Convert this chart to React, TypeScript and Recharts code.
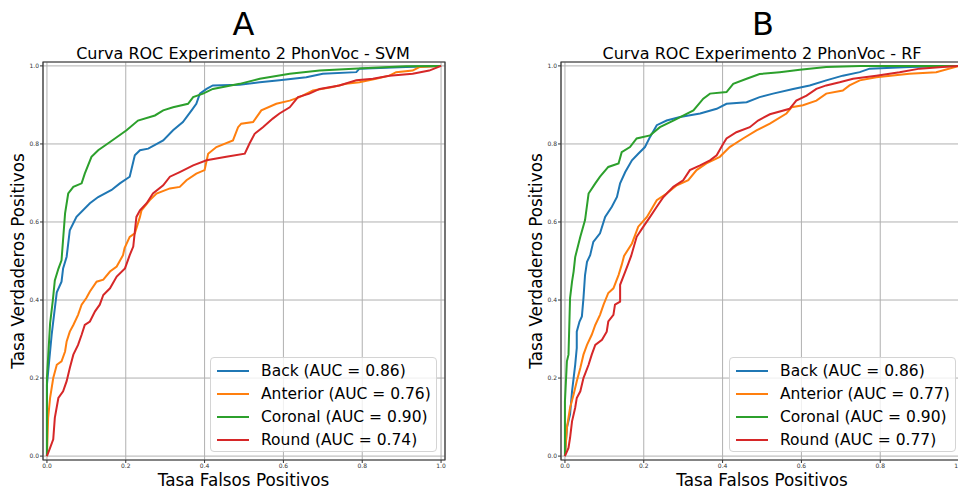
import React from 'react';
import { LineChart, Line, XAxis, YAxis, CartesianGrid, ReferenceArea } from 'recharts';

// tick values shared by both axes
const ticks = [0, 0.2, 0.4, 0.6, 0.8, 1.0];
const classNames = ['Back', 'Anterior', 'Coronal', 'Round'];
const colors = ['#1f77b4', '#ff7f0e', '#2ca02c', '#d62728'];

const svmAuc = [0.86, 0.76, 0.9, 0.74];
const rfAuc = [0.86, 0.77, 0.9, 0.77];

// [fpr, tpr] pairs
const svmBack = [[0,0],[0,0.183],[0.012,0.311],[0.016,0.345],[0.025,0.42],[0.037,0.447],[0.041,0.481],[0.05,0.511],[0.058,0.579],[0.075,0.613],[0.109,0.648],[0.13,0.664],[0.164,0.682],[0.185,0.699],[0.21,0.716],[0.223,0.771],[0.236,0.784],[0.257,0.788],[0.295,0.809],[0.32,0.835],[0.345,0.856],[0.367,0.886],[0.379,0.903],[0.388,0.929],[0.405,0.941],[0.421,0.95],[0.489,0.952],[0.54,0.958],[0.59,0.963],[0.658,0.971],[0.7,0.98],[0.785,0.984],[0.793,0.993],[0.911,0.997],[1,1]];
const svmAnterior = [[0,0],[0.003,0.098],[0.008,0.149],[0.016,0.2],[0.025,0.234],[0.037,0.243],[0.046,0.268],[0.05,0.294],[0.058,0.319],[0.067,0.336],[0.079,0.362],[0.088,0.388],[0.1,0.405],[0.109,0.422],[0.126,0.447],[0.143,0.452],[0.16,0.473],[0.177,0.486],[0.193,0.515],[0.197,0.533],[0.21,0.562],[0.223,0.571],[0.236,0.613],[0.24,0.63],[0.261,0.656],[0.278,0.673],[0.312,0.686],[0.337,0.69],[0.354,0.707],[0.379,0.724],[0.4,0.733],[0.409,0.775],[0.43,0.792],[0.472,0.809],[0.485,0.843],[0.493,0.852],[0.523,0.856],[0.544,0.886],[0.582,0.903],[0.616,0.911],[0.641,0.92],[0.675,0.937],[0.725,0.946],[0.759,0.954],[0.793,0.958],[0.835,0.967],[0.869,0.975],[0.886,0.984],[0.928,0.988],[0.945,0.997],[1,1]];
const svmCoronal = [[0,0],[0,0.2],[0.008,0.34],[0.015,0.4],[0.02,0.45],[0.029,0.48],[0.037,0.502],[0.046,0.622],[0.054,0.673],[0.067,0.69],[0.088,0.699],[0.096,0.724],[0.113,0.767],[0.13,0.784],[0.16,0.805],[0.202,0.835],[0.231,0.86],[0.274,0.873],[0.295,0.886],[0.32,0.894],[0.358,0.903],[0.371,0.92],[0.396,0.929],[0.421,0.941],[0.489,0.954],[0.54,0.967],[0.616,0.98],[0.692,0.988],[0.827,0.995],[0.911,0.999],[1,1]];
const svmRound = [[0,0],[0.008,0.021],[0.016,0.043],[0.02,0.098],[0.029,0.149],[0.041,0.166],[0.05,0.192],[0.058,0.226],[0.067,0.26],[0.079,0.285],[0.088,0.311],[0.096,0.336],[0.109,0.345],[0.122,0.371],[0.134,0.388],[0.143,0.413],[0.16,0.43],[0.177,0.46],[0.198,0.481],[0.21,0.515],[0.219,0.537],[0.227,0.613],[0.236,0.63],[0.253,0.648],[0.269,0.673],[0.295,0.694],[0.312,0.716],[0.337,0.728],[0.371,0.745],[0.405,0.758],[0.455,0.767],[0.502,0.775],[0.514,0.801],[0.527,0.826],[0.548,0.843],[0.573,0.865],[0.59,0.878],[0.616,0.894],[0.637,0.92],[0.666,0.929],[0.692,0.941],[0.742,0.95],[0.785,0.963],[0.827,0.967],[0.869,0.975],[0.928,0.98],[0.97,0.988],[1,1]];

const rfBack = [[0,0],[0.005,0.073],[0.013,0.107],[0.018,0.166],[0.022,0.2],[0.026,0.234],[0.03,0.277],[0.03,0.319],[0.037,0.345],[0.043,0.358],[0.047,0.405],[0.051,0.464],[0.056,0.498],[0.064,0.515],[0.072,0.549],[0.089,0.571],[0.102,0.613],[0.119,0.639],[0.132,0.664],[0.14,0.699],[0.153,0.728],[0.17,0.758],[0.186,0.775],[0.203,0.792],[0.216,0.818],[0.233,0.848],[0.258,0.86],[0.292,0.869],[0.343,0.878],[0.385,0.89],[0.41,0.903],[0.461,0.907],[0.494,0.92],[0.528,0.929],[0.579,0.941],[0.621,0.95],[0.663,0.963],[0.705,0.975],[0.748,0.984],[0.773,0.993],[0.874,0.997],[1,1]];
const rfAnterior = [[0,0],[0.005,0.073],[0.013,0.124],[0.022,0.158],[0.03,0.192],[0.039,0.226],[0.047,0.26],[0.056,0.285],[0.068,0.311],[0.077,0.336],[0.089,0.362],[0.098,0.388],[0.11,0.418],[0.123,0.43],[0.136,0.464],[0.144,0.49],[0.15,0.513],[0.17,0.545],[0.186,0.588],[0.208,0.613],[0.233,0.656],[0.258,0.673],[0.284,0.694],[0.313,0.707],[0.334,0.733],[0.359,0.75],[0.393,0.767],[0.418,0.792],[0.452,0.814],[0.486,0.835],[0.52,0.852],[0.562,0.878],[0.575,0.894],[0.604,0.899],[0.638,0.911],[0.663,0.929],[0.705,0.937],[0.722,0.95],[0.748,0.963],[0.79,0.971],[0.874,0.98],[0.942,0.984],[1,1]];
const rfCoronal = [[0,0],[0,0.14],[0.005,0.243],[0.009,0.26],[0.013,0.405],[0.018,0.447],[0.022,0.473],[0.026,0.51],[0.039,0.562],[0.051,0.605],[0.06,0.673],[0.077,0.699],[0.089,0.716],[0.11,0.741],[0.136,0.75],[0.144,0.779],[0.165,0.792],[0.182,0.814],[0.216,0.822],[0.241,0.843],[0.275,0.86],[0.326,0.886],[0.351,0.916],[0.368,0.929],[0.41,0.933],[0.427,0.954],[0.461,0.967],[0.494,0.979],[0.545,0.984],[0.596,0.99],[0.663,0.997],[0.75,1],[1,1]];
const rfRound = [[0,0],[0.009,0.021],[0.013,0.047],[0.018,0.089],[0.026,0.124],[0.03,0.149],[0.039,0.166],[0.047,0.2],[0.06,0.234],[0.068,0.26],[0.077,0.285],[0.094,0.298],[0.106,0.319],[0.11,0.345],[0.123,0.362],[0.127,0.388],[0.14,0.396],[0.14,0.439],[0.153,0.473],[0.161,0.494],[0.168,0.513],[0.182,0.562],[0.199,0.588],[0.216,0.613],[0.233,0.639],[0.25,0.664],[0.275,0.69],[0.3,0.707],[0.317,0.733],[0.343,0.745],[0.368,0.758],[0.385,0.771],[0.402,0.801],[0.41,0.814],[0.435,0.83],[0.469,0.843],[0.49,0.86],[0.52,0.876],[0.57,0.89],[0.587,0.911],[0.613,0.924],[0.638,0.941],[0.663,0.95],[0.697,0.958],[0.731,0.967],[0.79,0.975],[0.849,0.984],[0.9,0.993],[0.958,0.997],[1,1]];

const svmCurves = [svmBack, svmAnterior, svmCoronal, svmRound];
const rfCurves = [rfBack, rfAnterior, rfCoronal, rfRound];

const toPoints = (pairs: number[][]) => pairs.map(([x, y]) => ({ x, y }));
const fmt = (v: number) => v.toFixed(1);
const labelFor = (i: number, aucs: number[]) => `${classNames[i]} (AUC = ${aucs[i].toFixed(2)})`;

function RocLegend({ aucs, left }: { aucs: number[]; left: number }) {
    return (
        <div
            style={{
                position: 'absolute',
                left,
                top: 357,
                width: 227,
                height: 95,
                boxSizing: 'border-box',
                border: '1px solid #d4d4d4',
                borderRadius: 4,
                background: 'rgba(255,255,255,0.8)',
                paddingTop: 1,
            }}
        >
            {classNames.map((name, i) => (
                <div key={name} style={{ display: 'flex', alignItems: 'center', height: 23.2, marginLeft: 6 }}>
                    <span style={{ display: 'inline-block', width: 32, borderTop: `2.5px solid ${colors[i]}`, marginRight: 12 }} />
                    <span style={{ fontSize: 15.5, color: '#000', whiteSpace: 'nowrap' }}>{labelFor(i, aucs)}</span>
                </div>
            ))}
        </div>
    );
}

interface PanelProps {
    curves: number[][][];
    aucs: number[];
    left: number;
    marginLeft: number;
    width: number;
    legendLeft: number;
}

function RocPanel({ curves, aucs, left, marginLeft, width, legendLeft }: PanelProps) {
    return (
        <div style={{ position: 'absolute', left, top: 0, width, height: 490 }}>
            <LineChart width={width} height={490} margin={{ top: 62, right: width - marginLeft - 20 - 402, bottom: 10, left: marginLeft }}>
                <CartesianGrid stroke="#b0b0b0" strokeWidth={1} />
                <XAxis
                    type="number"
                    dataKey="x"
                    domain={[-0.01, 1.01]}
                    ticks={ticks}
                    interval={0}
                    allowDataOverflow
                    tickFormatter={fmt}
                    height={20}
                    tickSize={3}
                    tickMargin={1}
                    axisLine={false}
                    tickLine={{ stroke: '#333' }}
                    tick={{ fontSize: 6, fill: '#333' }}
                />
                <YAxis
                    type="number"
                    dataKey="y"
                    domain={[-0.01, 1.01]}
                    ticks={ticks}
                    interval={0}
                    allowDataOverflow
                    tickFormatter={fmt}
                    width={20}
                    tickSize={3}
                    tickMargin={1}
                    axisLine={false}
                    tickLine={{ stroke: '#333' }}
                    tick={{ fontSize: 6, fill: '#333' }}
                />
                <ReferenceArea x1={-0.01} x2={1.01} y1={-0.01} y2={1.01} fill="none" stroke="#333" strokeWidth={1.2} />
                {curves.map((c, i) => (
                    <Line
                        key={classNames[i]}
                        data={toPoints(c)}
                        dataKey="y"
                        name={labelFor(i, aucs)}
                        type="linear"
                        stroke={colors[i]}
                        strokeWidth={2}
                        dot={false}
                        isAnimationActive={false}
                    />
                ))}
            </LineChart>
            <RocLegend aucs={aucs} left={legendLeft} />
        </div>
    );
}

export default function App() {
    return (
        <div
            style={{
                position: 'absolute',
                left: 0,
                top: 0,
                width: 958,
                height: 490,
                overflow: 'hidden',
                background: '#fff',
                fontFamily: '"DejaVu Sans", sans-serif',
            }}
        >
            <RocPanel curves={svmCurves} aucs={svmAuc} left={0} marginLeft={23} width={479} legendLeft={210} />
            <RocPanel curves={rfCurves} aucs={rfAuc} left={479} marginLeft={62} width={490} legendLeft={250} />
            <svg width={958} height={490} style={{ position: 'absolute', left: 0, top: 0, pointerEvents: 'none' }}>
                <g fontFamily='"DejaVu Sans", sans-serif' fill="#000">
                    <text x={243.5} y={35} fontSize={32} textAnchor="middle">A</text>
                    <text x={763} y={35} fontSize={32} textAnchor="middle">B</text>
                    <text x={243} y={58.5} fontSize={16} textAnchor="middle">Curva ROC Experimento 2 PhonVoc - SVM</text>
                    <text x={762} y={58.5} fontSize={16} textAnchor="middle">Curva ROC Experimento 2 PhonVoc - RF</text>
                    <text x={243.5} y={485.5} fontSize={16.8} textAnchor="middle">Tasa Falsos Positivos</text>
                    <text x={762} y={485.5} fontSize={16.8} textAnchor="middle">Tasa Falsos Positivos</text>
                    <text x={24} y={261} fontSize={16.8} textAnchor="middle" transform="rotate(-90 24 261)">Tasa Verdaderos Positivos</text>
                    <text x={542} y={261} fontSize={16.8} textAnchor="middle" transform="rotate(-90 542 261)">Tasa Verdaderos Positivos</text>
                </g>
            </svg>
        </div>
    );
}
